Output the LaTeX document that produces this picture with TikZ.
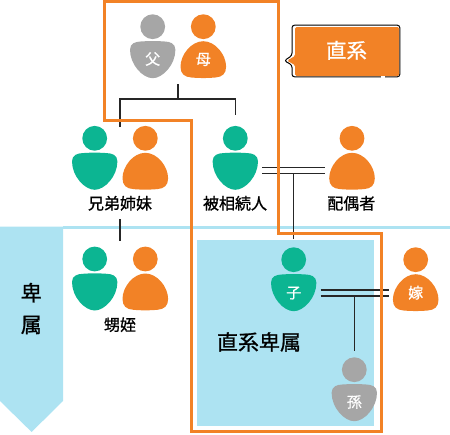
\documentclass[tikz,border=0pt]{standalone}
\usepackage{fontspec}
\newfontfamily\cjk[FakeBold=1.0]{Noto Sans CJK JP}
\newfontfamily\cjkw[FakeBold=0.8]{Noto Sans CJK JP}
\definecolor{org}{HTML}{F28226}
\definecolor{teal1}{HTML}{0CB592}
\definecolor{gry}{HTML}{A6A6A6}
\definecolor{sky}{HTML}{ADE3F2}
\tikzset{
  link/.style={draw=black!85,line width=1.2pt},
  lbl/.style={font=\cjk\fontsize{16}{16}\selectfont,text=black,inner sep=0pt},
  big/.style={font=\cjk\fontsize{21}{21}\selectfont,text=black,inner sep=0pt},
  tag/.style={font=\cjkw\fontsize{15}{15}\selectfont,text=white,inner sep=0pt},
  pics/man/.style={code={
    \fill[#1] (0,0) circle (12.4);
    \fill[#1] (-22.7,23) .. controls (-22.7,16.5) and (-17,15) .. (-12,14.8)
      .. controls (-4,14.2) and (4,14.2) .. (12,14.8)
      .. controls (17,15) and (22.7,16.5) .. (22.7,23)
      .. controls (22.7,38) and (10,51.5) .. (0,51.5)
      .. controls (-10,51.5) and (-22.7,38) .. (-22.7,23) -- cycle;
  }},
  pics/woman/.style={code={
    \fill[#1] (0,0) circle (12.4);
    \fill[#1] (0,14.5) .. controls (12,14.5) and (22.8,28) .. (22.8,40)
      .. controls (22.8,47) and (19,50.3) .. (12,50.8)
      .. controls (4,51.5) and (-4,51.5) .. (-12,50.8)
      .. controls (-19,50.3) and (-22.8,47) .. (-22.8,40)
      .. controls (-22.8,28) and (-12,14.5) .. (0,14.5) -- cycle;
  }},
}
\begin{document}
\begin{tikzpicture}[x=1pt,y=-1pt]
\useasboundingbox (0,0) rectangle (450,434);
% blue areas
\fill[sky] (0,226.5) -- (63,226.5) -- (63,401) -- (31.6,432) -- (0,401) -- cycle;
\fill[sky] (63,226.3) rectangle (450,228.5);
\fill[sky] (197.3,239.7) rectangle (374.3,426);
% coordinates for connectors
\coordinate (parents) at (178,84);
\coordinate (pbar) at (178,99);
\coordinate (pl) at (120,99);
\coordinate (pr) at (235.6,99);
\coordinate (sibtop) at (120,127);
\coordinate (hrdown) at (235.6,115);
\coordinate (sibbot) at (120,219);
\coordinate (nephtop) at (120,240.5);
\coordinate (ma) at (262.3,167.7);
\coordinate (mb) at (325,167.7);
\coordinate (mc) at (262.3,173.7);
\coordinate (md) at (325,173.7);
\coordinate (ms) at (293.7,173.7);
\coordinate (me) at (293.7,239);
\coordinate (ca) at (320.7,290);
\coordinate (cb) at (388.7,290);
\coordinate (cc) at (320.7,296);
\coordinate (cd) at (388.7,296);
\coordinate (cs) at (354.3,296);
\coordinate (ce) at (354.3,350.7);
% links
\draw[link] (parents) -- (pbar);
\draw[link] (sibtop) -- (pl) -- (pr) -- (hrdown);
\draw[link] (sibbot) -- (nephtop);
\draw[link] (ma) -- (mb);
\draw[link] (mc) -- (md);
\draw[link] (ms) -- (me);
\draw[link] (ca) -- (cb);
\draw[link] (cc) -- (cd);
\draw[link] (cs) -- (ce);
% orange outline
\draw[org,line width=3pt,line join=miter]
  (104,1.5) -- (278.7,1.5) -- (278.7,233.5) -- (381,233.5) -- (381,431.3)
  -- (191,431.3) -- (191,120.5) -- (104,120.5) -- cycle;
% people
\pic at (152.7,26.7) {man=gry};
\pic at (203.3,26.7) {woman=org};
\pic at (94.7,138.3) {man=teal1};
\pic at (145.3,138.3) {woman=org};
\pic at (235.3,138.3) {man=teal1};
\pic at (352,138.3) {woman=org};
\pic at (293.7,259.7) {man=teal1};
\pic at (415.7,259.7) {woman=org};
\pic at (94.7,259) {man=teal1};
\pic at (145.3,259) {woman=org};
\pic at (354.3,369.7) {man=gry};
% tags
\node[tag] (tfa) at (152.7,59) {父};
\node[tag] (tmo) at (203.3,59.5) {母};
\node[tag] (tch) at (293.7,293) {子};
\node[tag] (tyo) at (415.7,292.7) {嫁};
\node[tag] (tmg) at (354.3,402) {孫};
% labels
\node[lbl] (l1) at (120,203.3) {兄弟姉妹};
\node[lbl] (l2) at (235,203.3) {被相続人};
\node[lbl] (l3) at (351.3,203.3) {配偶者};
\node[lbl] (l4) at (120,324.7) {甥姪};
\node[big] (l5) at (31.3,292.7) {卑};
\node[big] (l6) at (31.3,325) {属};
\node[big] (l7) at (259,342) {直系卑属};
% callout
\draw[black,line width=1pt,rounded corners=2.5pt] (292,25.2) -- (399.8,25.2) -- (399.8,76.8) -- (292,76.8) -- (292,65) -- (284.3,60.7) -- (292,55.5) -- cycle;
\fill[org,rounded corners=1.5pt] (295,27) -- (399,27) -- (399,76) -- (295,76) -- (295,65) -- (287,60.7) -- (295,56) -- cycle;
\fill[white] (381,76) rectangle (385,77.6);
\node[font=\cjkw\fontsize{20.5}{20.5}\selectfont,text=white,inner sep=0pt] (c1) at (346.5,50.3) {直系};
\end{tikzpicture}
\end{document}
